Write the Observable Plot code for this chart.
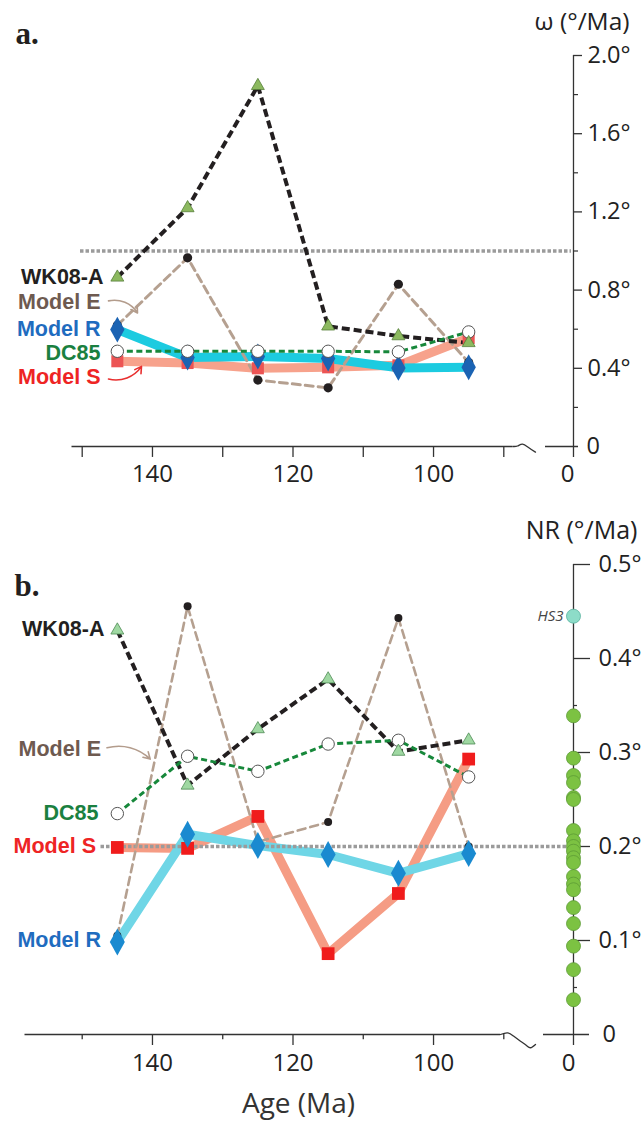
<!DOCTYPE html>
<html><head><meta charset="utf-8">
<script src="https://cdn.jsdelivr.net/npm/d3@7"></script>
<script src="https://cdn.jsdelivr.net/npm/@observablehq/plot@0.6"></script>
<style>
html,body{margin:0;padding:0;background:#fff;}
#chart svg{display:block;}
</style></head>
<body><div id="chart"></div>
<script>
// ---------- data ----------
const ages = [145, 135, 125, 115, 105, 95];
const seriesNames = ["WK08-A", "Model E", "Model R", "DC85", "Model S"];

// panel a: angular velocity ω (°/Ma)
const omegaWK08A = [0.865, 1.22, 1.845, 0.615, 0.565, 0.53];
const omegaModelE = [0.62, 0.965, 0.34, 0.30, 0.83, 0.43];
const omegaDC85  = [0.487, 0.487, 0.487, 0.487, 0.484, 0.586];
const omegaModelR = [0.598, 0.455, 0.46, 0.45, 0.402, 0.405];
const omegaModelS = [0.436, 0.427, 0.40, 0.405, 0.415, 0.555];
const omegaRef = [1.0];

// panel b: net rotation NR (°/Ma)
const nrWK08A = [0.43, 0.265, 0.325, 0.378, 0.301, 0.313];
const nrModelE = [0.105, 0.4555, 0.205, 0.226, 0.443, 0.20];
const nrDC85  = [0.235, 0.296, 0.28, 0.309, 0.313, 0.274];
const nrModelR = [0.0985, 0.213, 0.201, 0.1915, 0.1715, 0.1925];
const nrModelS = [0.199, 0.198, 0.232, 0.086, 0.15, 0.293];
const nrRef = [0.2];
const nrHS3 = [0.445];
const nrHotspots = [0.339, 0.294, 0.2755, 0.268, 0.252, 0.25, 0.217, 0.206, 0.2, 0.195, 0.188, 0.183, 0.168, 0.16, 0.154, 0.135, 0.118, 0.094, 0.069, 0.037];

// ticks
const xTicks = [150, 140, 130, 120, 110, 100, 90];
const xTickLabels = [140, 120, 100];
const yTicksA = [0.4, 0.8, 1.2, 1.6, 2.0];
const yMinorA = [0.2, 0.6, 1.0, 1.4, 1.8];
const yTicksB = [0.1, 0.2, 0.3, 0.4, 0.5];
const yMinorB = [0.05, 0.15, 0.25, 0.35, 0.45];

// ---------- layout & styles ----------
const C = {
  wk: "#231f20", E: "#b5a090", dc: "#17883b", axis: "#333",
  labWK: "#231f20", labE: "#6e5a50", labR: "#1f6cbf", labDC: "#1a8040", labS: "#ee2424"
};
const FONT = "'Open Sans', 'DejaVu Sans', sans-serif";
const LABEL_FONT = "'Liberation Sans', Arial, sans-serif";
const X0 = 81.7, X1 = 503.3;                 // pixel positions of 150 Ma and 90 Ma
const PXU = (X1 - X0) / 60;                   // px per Ma
const pxU = px => 150 - (px - X0) / PXU;      // pixel offset -> age-axis units (for decorations)
// broken age axis: ages < 90 Ma are squeezed into the gap after the break
const brk = age => age >= 90 ? age : 90 - (90 - age) * 0.1102;
const Z = brk(0);                              // where 0 Ma sits (right-hand axis)
const xScale = {domain: [150, 90], range: [X0, X1], axis: null};

const tallDiamond = {
  draw(ctx, size) {
    const r = Math.sqrt(size / Math.PI), w = r, h = r * 1.8;
    ctx.moveTo(0, -h); ctx.lineTo(w, 0); ctx.lineTo(0, h); ctx.lineTo(-w, 0); ctx.closePath();
  }
};

function rows(wk, e, dc, r, s) {
  return ages.map((age, i) => ({age: brk(age), WK: wk[i], E: e[i], DC: dc[i], R: r[i], S: s[i]}));
}

function seriesMarks(data, st) {
  return [
    Plot.line(data, {x: "age", y: "S", stroke: st.salmon, strokeWidth: 9, strokeLinejoin: "miter", strokeLinecap: "butt"}),
    Plot.line(data, {x: "age", y: "R", stroke: st.cyan, strokeWidth: 9, strokeLinejoin: "miter", strokeLinecap: "butt"}),
    ...(st.refMark ? [st.refMark] : []),
    Plot.line(data, {x: "age", y: "E", stroke: C.E, strokeWidth: st.eWidth, strokeDasharray: "8,5"}),
    Plot.line(data, {x: "age", y: "WK", stroke: C.wk, strokeWidth: 4, strokeDasharray: "8,4", strokeLinecap: "butt"}),
    Plot.line(data, {x: "age", y: "DC", stroke: C.dc, strokeWidth: 3, strokeDasharray: "6,3.5", strokeLinecap: "butt"}),
    Plot.dot(data, {x: "age", y: "E", r: st.eR, fill: "#231f20"}),
    Plot.dot(data, {x: "age", y: "S", symbol: "square", r: st.sqR, fill: st.square}),
    Plot.dot(data, {x: "age", y: "R", symbol: tallDiamond, r: st.diaR, fill: st.diamond}),
    Plot.dot(data, {x: "age", y: "DC", r: 6.2, fill: "white", stroke: "#555", strokeWidth: 1}),
    Plot.dot(data, {x: "age", y: "WK", symbol: "triangle", r: 4.8, fill: st.tri, stroke: st.triStroke, strokeWidth: 0.8})
  ];
}

function labelMarks(pos) {
  const cols = [C.labWK, C.labE, C.labR, C.labDC, C.labS];
  return seriesNames.map((name, i) => Plot.text([name], {
    x: pxU(pos[i][0]), y: pos[i][1], text: d => d, textAnchor: "end",
    fontSize: 21.5, fontWeight: "bold", fill: cols[i], fontFamily: LABEL_FONT
  }));
}

// ---------- panel a ----------
const rowsA = rows(omegaWK08A, omegaModelE, omegaDC85, omegaModelR, omegaModelS);
const squiggleA = [[512.7, 0], [517, 0.0026], [522, 0.012], [528, -0.005], [535, -0.029]];

const panelA = Plot.plot({
  width: 643, height: 500,
  marginTop: 55, marginBottom: 54, marginLeft: 0, marginRight: 0,
  x: xScale,
  y: {domain: [0, 2], axis: null},
  style: {fontFamily: FONT, background: "white", overflow: "visible"},
  marks: [
    Plot.ruleY(omegaRef, {y: d => d, x1: pxU(80), x2: pxU(571), stroke: "#9b9b9b", strokeWidth: 3.5, strokeDasharray: "3.5,2"}),
    ...seriesMarks(rowsA, {
      salmon: "#f7a28c", cyan: "#1ccbe0", square: "#ec5454", diamond: "#1b63b3",
      tri: "#8cb95f", triStroke: "#557f38", eWidth: 3, eR: 4.6, sqR: 6.8, diaR: 7.2
    }),
    // axes
    Plot.ruleX([Z], {x: d => d, y1: -0.056, y2: 2.0, stroke: C.axis, strokeWidth: 1.3}),
    Plot.ruleY(yTicksA, {y: d => d, x1: Z, x2: pxU(582), stroke: C.axis, strokeWidth: 1.3}),
    Plot.ruleY(yMinorA, {y: d => d, x1: Z, x2: pxU(578), stroke: C.axis, strokeWidth: 1.2}),
    Plot.text(yTicksA, {x: Z, y: d => d, text: d => d.toFixed(1) + "°", dx: 14, textAnchor: "start", fontSize: 23.5, fill: "#222"}),
    Plot.text([0], {x: Z, y: 0, text: d => String(d), dx: 13, textAnchor: "start", fontSize: 23.5, fill: "#222"}),
    Plot.ruleY([0], {x1: pxU(71.5), x2: pxU(512.7), stroke: C.axis, strokeWidth: 1.3}),
    Plot.line(squiggleA, {x: d => pxU(d[0]), y: d => d[1], curve: "natural", stroke: C.axis, strokeWidth: 1.3}),
    Plot.ruleY([0], {x1: pxU(545), x2: pxU(578), stroke: C.axis, strokeWidth: 1.3}),
    Plot.ruleX(xTicks, {x: d => d, y1: 0, y2: -0.056, stroke: C.axis, strokeWidth: 1.3}),
    Plot.text(xTickLabels, {x: d => d, y: 0, dy: 28, text: d => String(d), fontSize: 24, fill: "#222"}),
    Plot.text([0], {x: d => brk(d), y: 0, dy: 28, dx: -6, text: d => String(d), fontSize: 24, fill: "#222"}),
    Plot.text(["ω (°/Ma)"], {x: Z, y: 2.0, dx: 56, dy: -33, text: d => d, textAnchor: "end", fontSize: 24.5, fill: "#222"}),
    Plot.text(["a."], {frameAnchor: "top-left", dx: 15, dy: -34, text: d => d, textAnchor: "start", fontSize: 31, fontWeight: "bold", fontFamily: "'Liberation Serif', 'DejaVu Serif', serif", fill: "#231f20"}),
    // series labels + arrows
    ...labelMarks([[103, 0.866], [100, 0.738], [100, 0.602], [100, 0.477], [100, 0.354]]),
    Plot.arrow([0], {x1: pxU(108), y1: 0.745, x2: pxU(137), y2: 0.683, bend: 35, stroke: "#b39c8c", strokeWidth: 1.6, headLength: 7}),
    Plot.arrow([0], {x1: pxU(108), y1: 0.345, x2: pxU(141), y2: 0.41, bend: -35, stroke: "#e83030", strokeWidth: 1.6, headLength: 7})
  ]
});

// ---------- panel b ----------
const rowsB = rows(nrWK08A, nrModelE, nrDC85, nrModelR, nrModelS);
const squiggleB = [[500, 0], [507, 0.0018], [513, -0.0016], [520, -0.0071], [526, -0.0117], [530, -0.0141], [535, -0.0106]];

const panelB = Plot.plot({
  width: 643, height: 624,
  marginTop: 64, marginBottom: 90, marginLeft: 0, marginRight: 0,
  x: xScale,
  y: {domain: [0, 0.5], axis: null},
  style: {fontFamily: FONT, background: "white", overflow: "visible"},
  marks: [
    ...seriesMarks(rowsB, {
      salmon: "#f59c84", cyan: "#6fd6e6", square: "#f01c1c", diamond: "#1a8ad0",
      tri: "#9fd8a2", triStroke: "#4f8c55", eWidth: 2.6, eR: 4, sqR: 7.2, diaR: 7.5,
      refMark: Plot.ruleY(nrRef, {y: d => d, x1: pxU(100.5), x2: pxU(568), stroke: "#9b9b9b", strokeWidth: 3.5, strokeDasharray: "3.5,2"})
    }),
    // axes
    Plot.ruleX([Z], {x: d => d, y1: -0.0117, y2: 0.5, stroke: C.axis, strokeWidth: 1.3}),
    Plot.ruleY(yTicksB, {y: d => d, x1: Z, x2: pxU(590), stroke: C.axis, strokeWidth: 1.3}),
    Plot.ruleY(yMinorB, {y: d => d, x1: Z, x2: pxU(577), stroke: C.axis, strokeWidth: 1.2}),
    Plot.dot(nrHotspots, {x: Z, y: d => d, r: 7, fill: "#7cc242", stroke: "#5c9a35", strokeWidth: 0.8}),
    Plot.dot(nrHS3, {x: Z, y: d => d, r: 7, fill: "#8ddcc8", stroke: "#5ab3a0", strokeWidth: 0.8}),
    Plot.text(["HS3"], {x: Z, y: nrHS3[0], dx: -10, text: d => d, textAnchor: "end", fontSize: 15, fontStyle: "italic", fill: "#444"}),
    Plot.text(yTicksB, {x: Z, y: d => d, text: d => d.toFixed(1) + "°", dx: 25, textAnchor: "start", fontSize: 23.5, fill: "#222"}),
    Plot.text([0], {x: Z, y: 0, text: d => String(d), dx: 29, textAnchor: "start", fontSize: 23.5, fill: "#222"}),
    Plot.ruleY([0], {x1: pxU(24.5), x2: pxU(500), stroke: C.axis, strokeWidth: 1.3}),
    Plot.line(squiggleB, {x: d => pxU(d[0]), y: d => d[1], curve: "natural", stroke: C.axis, strokeWidth: 1.3}),
    Plot.ruleY([0], {x1: pxU(543), x2: pxU(589), stroke: C.axis, strokeWidth: 1.3}),
    Plot.ruleX(xTickLabels, {x: d => d, y1: 0, y2: -0.0117, stroke: C.axis, strokeWidth: 1.3}),
    Plot.ruleX(xTicks.filter(t => !xTickLabels.includes(t)), {x: d => d, y1: 0, y2: -0.0055, stroke: C.axis, strokeWidth: 1.3}),
    Plot.text(xTickLabels, {x: d => d, y: 0, dy: 29, text: d => String(d), fontSize: 24, fill: "#222"}),
    Plot.text([0], {x: d => brk(d), y: 0, dy: 29, dx: -5, text: d => String(d), fontSize: 24, fill: "#222"}),
    Plot.text(["Age (Ma)"], {x: pxU(298), y: 0, dy: 70, text: d => d, fontSize: 28, fill: "#333"}),
    Plot.text(["NR (°/Ma)"], {x: Z, y: 0.5, dx: 64, dy: -34, text: d => d, textAnchor: "end", fontSize: 25, fill: "#222"}),
    Plot.text(["b."], {frameAnchor: "top-left", dx: 14, dy: 9, text: d => d, textAnchor: "start", fontSize: 31, fontWeight: "bold", fontFamily: "'Liberation Serif', 'DejaVu Serif', serif", fill: "#231f20"}),
    ...labelMarks([[104, 0.431], [100.5, 0.3036], [100.5, 0.10], [98, 0.236], [95.5, 0.2006]]),
    Plot.arrow([0], {x1: pxU(106.5), y1: 0.305, x2: pxU(149.7), y2: 0.293, bend: 30, stroke: "#b39c8c", strokeWidth: 1.6, headLength: 7})
  ]
});

document.getElementById("chart").append(panelA, panelB);
</script>
</body></html>
